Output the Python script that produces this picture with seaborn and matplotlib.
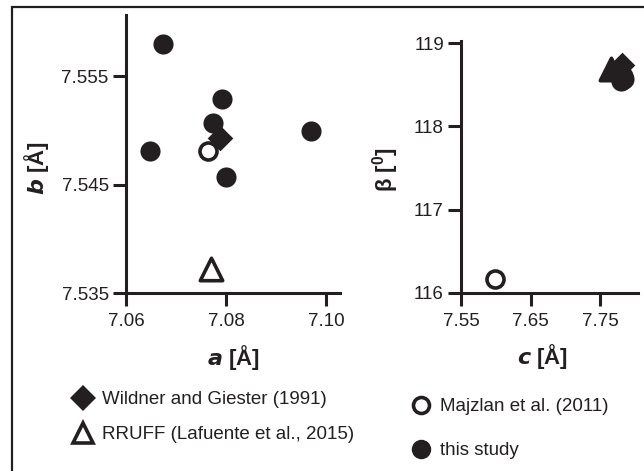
import matplotlib
matplotlib.use('Agg')
import matplotlib.pyplot as plt
from matplotlib.lines import Line2D
from matplotlib.patches import Rectangle
import pandas as pd
import seaborn as sns

# lattice parameters
this_a = [7.0673, 7.0648, 7.0791, 7.0773, 7.0800, 7.0970]
this_b = [7.5580, 7.5481, 7.5529, 7.5507, 7.5457, 7.5500]
this_c = [7.782, 7.784, 7.781, 7.783, 7.785, 7.782]
this_beta = [118.56, 118.58, 118.55, 118.60, 118.57, 118.59]

wildner_a = [7.0788]
wildner_b = [7.5493]
wildner_c = [7.7815]
wildner_beta = [118.74]

majzlan_a = [7.0763]
majzlan_b = [7.5481]
majzlan_c = [7.599]
majzlan_beta = [116.17]

rruff_a = [7.0770]
rruff_b = [7.5372]
rruff_c = [7.766]
rruff_beta = [118.69]

b_ticks = [7.535, 7.545, 7.555]
a_ticks = [7.06, 7.08, 7.10]
beta_ticks = [116, 117, 118, 119]
c_ticks = [7.55, 7.65, 7.75]

labels = ['Wildner and Giester (1991)', 'RRUFF (Lafuente et al., 2015)',
          'Majzlan et al. (2011)', 'this study']

INK = '#231f20'


def main():
    sns.set_style('ticks')
    plt.rcParams['font.family'] = ['Liberation Sans', 'DejaVu Sans']
    plt.rcParams['mathtext.fontset'] = 'custom'
    plt.rcParams['mathtext.rm'] = 'Liberation Sans'
    plt.rcParams['mathtext.bf'] = 'Liberation Sans:bold'

    this = pd.DataFrame({'a': this_a, 'b': this_b, 'c': this_c, 'beta': this_beta})
    wild = pd.DataFrame({'a': wildner_a, 'b': wildner_b, 'c': wildner_c, 'beta': wildner_beta})
    majz = pd.DataFrame({'a': majzlan_a, 'b': majzlan_b, 'c': majzlan_c, 'beta': majzlan_beta})
    rruf = pd.DataFrame({'a': rruff_a, 'b': rruff_b, 'c': rruff_c, 'beta': rruff_beta})

    fig = plt.figure(figsize=(6.44, 4.71), dpi=100)
    ax1 = fig.add_axes([0.1957, 0.3779, 0.3323, 0.5909])
    ax2 = fig.add_axes([0.7163, 0.3786, 0.2739, 0.5350])

    # in the c-beta panel the triangle sits under the cluster and looks solid
    for ax, xc, yc, tri_face in [(ax1, 'a', 'b', 'white'), (ax2, 'c', 'beta', INK)]:
        sns.scatterplot(data=rruf, x=xc, y=yc, ax=ax, marker='^', s=260,
                        color=tri_face, edgecolor=INK, linewidth=2.6, zorder=3)
        sns.scatterplot(data=wild, x=xc, y=yc, ax=ax, marker='D', s=170,
                        color=INK, edgecolor=INK, linewidth=0, zorder=3)
        sns.scatterplot(data=this, x=xc, y=yc, ax=ax, marker='o', s=210,
                        color=INK, edgecolor=INK, linewidth=0, zorder=4)
        sns.scatterplot(data=majz, x=xc, y=yc, ax=ax, marker='o', s=150,
                        color='white', edgecolor=INK, linewidth=2.6, zorder=5)
        for side in ['top', 'right']:
            ax.spines[side].set_visible(False)
        for side in ['left', 'bottom']:
            ax.spines[side].set_linewidth(2.2)
            ax.spines[side].set_color(INK)
        ax.tick_params(direction='out', length=9.5, width=2.2, color=INK,
                       labelsize=13.5, labelcolor=INK, pad=3)
        ax.tick_params(axis='x', pad=5)
        ax.set_facecolor('none')
        ax.set_xlabel('')
        ax.set_ylabel('')

    ax1.set_xlim(7.06, 7.1028)
    ax1.set_ylim(7.535, 7.5607)
    ax1.set_xticks(a_ticks, ['7.06', '7.08', '7.10'])
    ax1.set_yticks(b_ticks, ['7.535', '7.545', '7.555'])

    ax2.set_xlim(7.55, 7.8045)
    ax2.set_ylim(116, 119.03)
    ax2.set_xticks(c_ticks, ['7.55', '7.65', '7.75'])
    ax2.set_yticks(beta_ticks, ['116', '117', '118', '119'])
    ax2.set_ylabel(r'β [$^{\mathbf{0}}$]', fontsize=16, fontweight='bold', color=INK)
    ax2.yaxis.set_label_coords(-0.34, 0.49)

    # axis titles with bold-italic variable names
    ax1.text(0.50, -0.23, r'$\mathbfit{a}$ [Å]', transform=ax1.transAxes, fontsize=16,
             fontweight='bold', ha='center', va='center', color=INK)
    ax1.text(-0.42, 0.45, r'$\mathbfit{b}$ [Å]', transform=ax1.transAxes, fontsize=16,
             fontweight='bold', ha='center', va='center', rotation=90, color=INK)
    ax2.text(0.463, -0.255, r'$\mathbfit{c}$ [Å]', transform=ax2.transAxes, fontsize=16,
             fontweight='bold', ha='center', va='center', color=INK)

    # legend built from proxy handles
    h_wild = Line2D([], [], ls='none', marker='D', ms=13, mfc=INK, mec=INK, mew=0)
    h_rruf = Line2D([], [], ls='none', marker='^', ms=14, mfc='white', mec=INK, mew=2.6)
    h_majz = Line2D([], [], ls='none', marker='o', ms=11.5, mfc='white', mec=INK, mew=2.6)
    h_this = Line2D([], [], ls='none', marker='o', ms=14, mfc=INK, mec=INK, mew=0)

    leg_kw = dict(frameon=False, loc='upper left', fontsize=13.5, handlelength=1.0,
                  handletextpad=0.5, borderpad=0, borderaxespad=0, labelcolor=INK)
    fig.legend([h_wild, h_rruf], labels[:2], bbox_to_anchor=(74 / 644, 1 - 391 / 471),
               labelspacing=0.95, **leg_kw)
    fig.legend([h_majz, h_this], labels[2:], bbox_to_anchor=(412 / 644, 1 - 398 / 471),
               labelspacing=1.45, **leg_kw)

    # frame around the panel (cropped at right and bottom)
    fig.add_artist(Rectangle((12.5 / 644, -0.2), 1.2, 1.2 - 7.3 / 471,
                             transform=fig.transFigure, fill=False, lw=1.6,
                             edgecolor=INK))

    fig.savefig('out.png', dpi=100)


if __name__ == '__main__':
    main()
